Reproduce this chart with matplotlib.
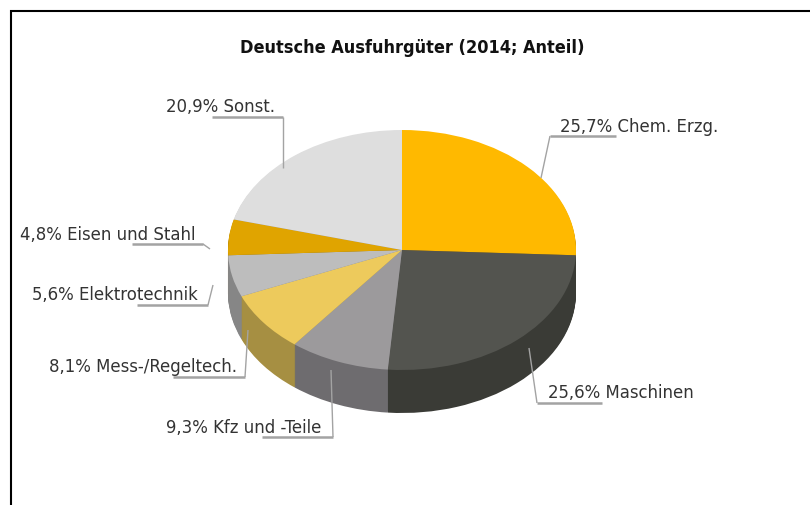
import numpy as np
import matplotlib
matplotlib.use("Agg")
import matplotlib.pyplot as plt

title = "Deutsche Ausfuhrgüter (2014; Anteil)"
labels = ["25,7% Chem. Erzg.", "25,6% Maschinen", "9,3% Kfz und -Teile", "8,1% Mess-/Regeltech.",
          "5,6% Elektrotechnik", "4,8% Eisen und Stahl", "20,9% Sonst."]
shares = [25.7, 25.6, 9.3, 8.1, 5.6, 4.8, 20.9]
top_colors = ["#ffb900", "#53544f", "#9c9a9c", "#edca5c", "#bdbdbd", "#e0a400", "#dedede"]
side_colors = ["#a67800", "#3a3b36", "#6e6c6f", "#a68f42", "#868686", "#917000", "#909090"]

# text anchor (left, baseline) and leader polyline, all in pixels of the 810x505 picture
text_pos = [(560, 132), (548, 398), (166, 433), (49, 372), (32, 300), (20, 240), (166, 112)]
leaders = [[(616, 136), (550, 136), (541, 178)],
           [(602, 403), (537, 403), (529, 348)],
           [(262, 437), (333, 437), (331, 370)],
           [(173, 377), (245, 377), (248, 330)],
           [(137, 305), (208, 305), (213, 285)],
           [(132, 244), (203, 244), (210, 249)],
           [(212, 117), (283, 117), (283, 168)]]

cx, cy, rx, ry, depth = 402, 250, 174, 120, 43

fig = plt.figure(figsize=(8.1, 5.05), dpi=100)

# pie axes: radius 1 is stretched to rx by ry px
ax = fig.add_axes([0, 0, 1, 1])
for d in np.arange(depth, 0, -1):
    ax.pie(shares, colors=side_colors, startangle=90, counterclock=False, center=(0, -d / ry),
           wedgeprops=dict(linewidth=0))
ax.pie(shares, colors=top_colors, startangle=90, counterclock=False, wedgeprops=dict(linewidth=0))
ax.set_aspect("auto")
ax.set_xlim((0 - cx) / rx, (810 - cx) / rx)
ax.set_ylim((cy - 505) / ry, cy / ry)

# overlay in picture pixels
over = fig.add_axes([0, 0, 1, 1])
over.set_xlim(0, 810)
over.set_ylim(505, 0)
over.axis("off")
over.patch.set_alpha(0)

over.plot([10.5, 10.5, 810], [505, 10.5, 10.5], color="k", lw=1.5, solid_joinstyle="miter")

for pts in leaders:
    xs, ys = zip(*pts)
    over.plot(xs[:2], ys[:2], color="#a3a3a3", lw=1.8, solid_capstyle="butt")
    over.plot(xs[1:], ys[1:], color="#a3a3a3", lw=1.0, solid_capstyle="butt")

font = dict(family="DejaVu Sans", stretch="condensed")
for s, (x, y) in zip(labels, text_pos):
    over.text(x, y, s, fontsize=13.2, color="#333333", ha="left", va="baseline", **font)
over.text(412, 53, title, fontsize=13, color="#111111", fontweight="bold", ha="center", va="baseline", **font)

fig.savefig("out.png", dpi=100)
